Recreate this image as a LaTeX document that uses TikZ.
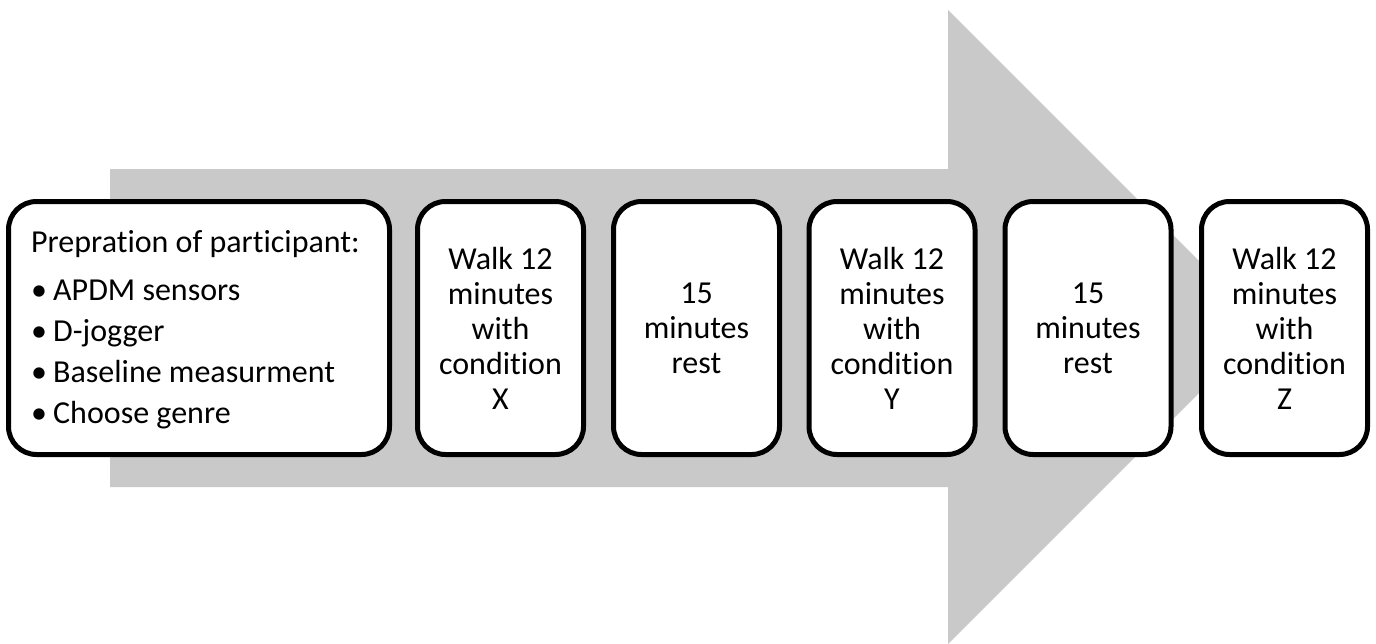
\documentclass[tikz,border=0pt]{standalone}
\usepackage{fontspec}
\setmainfont{Carlito}[Ligatures={NoCommon}]
\definecolor{arrowgray}{RGB}{201,201,201}
\tikzset{
  stagebox/.style={draw=black, line width=5pt, fill=white, rounded corners=28pt,
    minimum width=166pt, minimum height=253pt, align=center, inner sep=0pt,
    font=\fontsize{32}{35}\selectfont},
  bigbox/.style={stagebox, minimum width=381pt},
  listtext/.style={align=left, inner sep=0pt, anchor=north west,
    font=\fontsize{32}{41}\selectfont},
  bigarrow/.style={fill=arrowgray, draw=none}
}
\newcommand{\bul}{\makebox[22pt][l]{•}}
\begin{document}
\begin{tikzpicture}[x=1pt,y=-1pt]
\useasboundingbox (0,0) rectangle (1376,643);
% big gray arrow
\fill[bigarrow] (110,169) -- (948,169) -- (948,10) -- (1265,327) -- (948,644) -- (948,487) -- (110,487) -- cycle;
% stages
\node[bigbox] (b1) at (199,328) {};
\node[listtext] (b1text) at (31,230) {Prepration of participant:\\[7pt]
\bul APDM sensors\\
\bul D-jogger\\
\bul Baseline measurment\\
\bul Choose genre};
\node[stagebox] (b2) at (500.5,328) {Walk 12\\minutes\\with\\condition\\X};
\node[stagebox] (b3) at (696.5,328) {15\\minutes\\rest};
\node[stagebox] (b4) at (892,328) {Walk 12\\minutes\\with\\condition\\Y};
\node[stagebox] (b5) at (1088,328) {15\\minutes\\rest};
\node[stagebox] (b6) at (1284.5,328) {Walk 12\\minutes\\with\\condition\\Z};
\end{tikzpicture}
\end{document}
